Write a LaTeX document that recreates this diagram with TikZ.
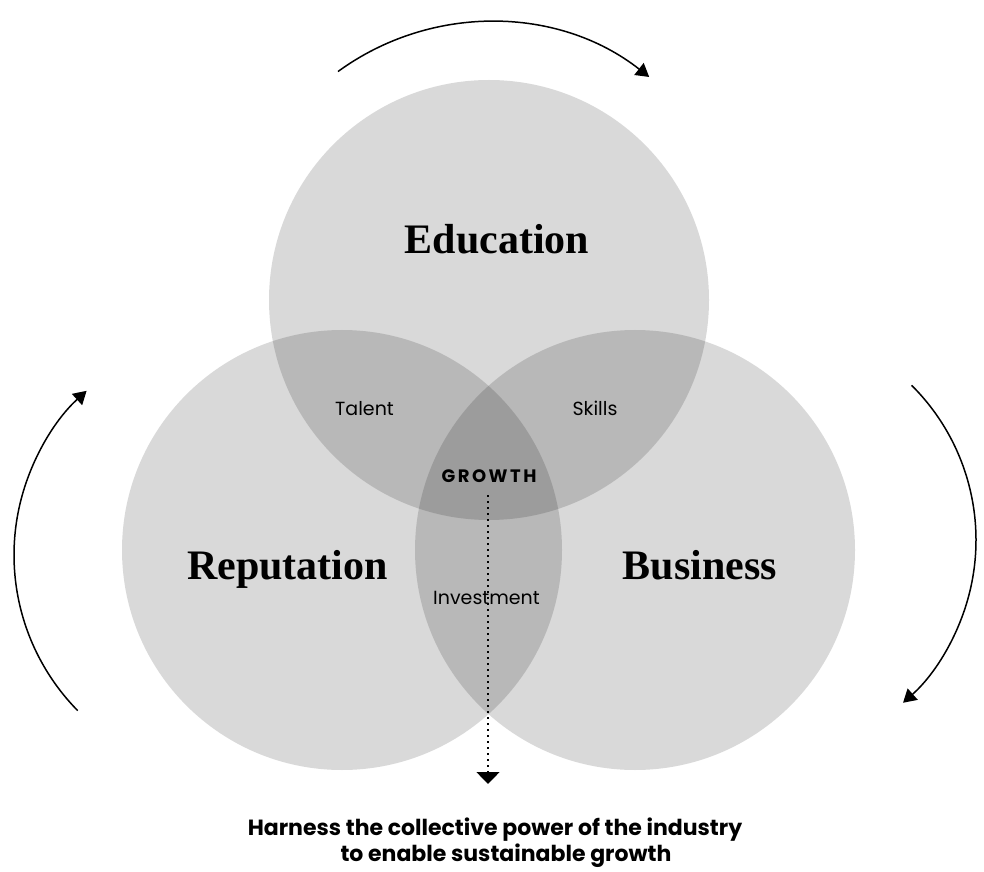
\documentclass[tikz,border=0pt]{standalone}
\usepackage{fontspec}
\setmainfont{Liberation Serif}
\newfontfamily\labelfont{Poppins}
\usetikzlibrary{arrows.meta}
\begin{document}
\begin{tikzpicture}[x=1pt,y=1pt,
  venn/.style={circle, minimum size=440pt, inner sep=0pt, fill=black, fill opacity=0.15, draw=none},
  bigtitle/.style={anchor=base, font=\fontsize{42}{42}\selectfont\bfseries, text=black},
  smalllab/.style={anchor=base, font=\labelfont\fontsize{19}{19}\selectfont, text=black},
  cyc/.style={line width=1.5pt, -{Triangle[length=13pt,width=15pt]}},
  bottomtext/.style={anchor=base, font=\labelfont\bfseries\fontsize{22}{22}\selectfont}
]
\useasboundingbox (0,0) rectangle (984,871);
\fill[white] (0,0) rectangle (984,871);
% circles
\node[venn] (edu) at (489,571) {};
\node[venn] (rep) at (342,321) {};
\node[venn] (bus) at (635,321) {};
% titles
\node[bigtitle] (edut) at (497,617) {Education};
\node[bigtitle] (rept) at (287.5,292) {Reputation};
\node[bigtitle] (bust) at (700,292) {Business};
% overlap labels
\node[smalllab] (tal) at (364.5,455) {Talent};
\node[smalllab] (ski) at (595,455) {Skills};
\node[smalllab] (inv) at (486.5,267) {Investment};
\node[anchor=base, font=\labelfont\bfseries\fontsize{18}{18}\selectfont\addfontfeatures{LetterSpace=14}] (gro) at (489,389) {GROWTH};
% cycle arrows
\coordinate (topc) at (490,591);
\coordinate (leftc) at (236,316);
\coordinate (rightc) at (758,331);
\draw[cyc] (topc) ++(126.1:258pt) arc[start angle=126.1, end angle=51.9, radius=258pt];
\draw[cyc] (leftc) ++(224.5:222pt) arc[start angle=224.5, end angle=132.3, radius=222pt];
\draw[cyc] (rightc) ++(45.2:218pt) arc[start angle=45.2, end angle=-48.3, radius=218pt];
% growth arrow
\coordinate (gs) at (488,376);
\coordinate (ge) at (488,87);
\draw[line width=1.5pt, dash pattern=on 1.5pt off 4.5pt, -{Triangle[length=12pt,width=23pt]}] (gs) -- (ge);
% bottom text
\node[bottomtext] (b1) at (495,36) {Harness the collective power of the industry};
\node[bottomtext] (b2) at (506,10) {to enable sustainable growth};
\end{tikzpicture}
\end{document}
